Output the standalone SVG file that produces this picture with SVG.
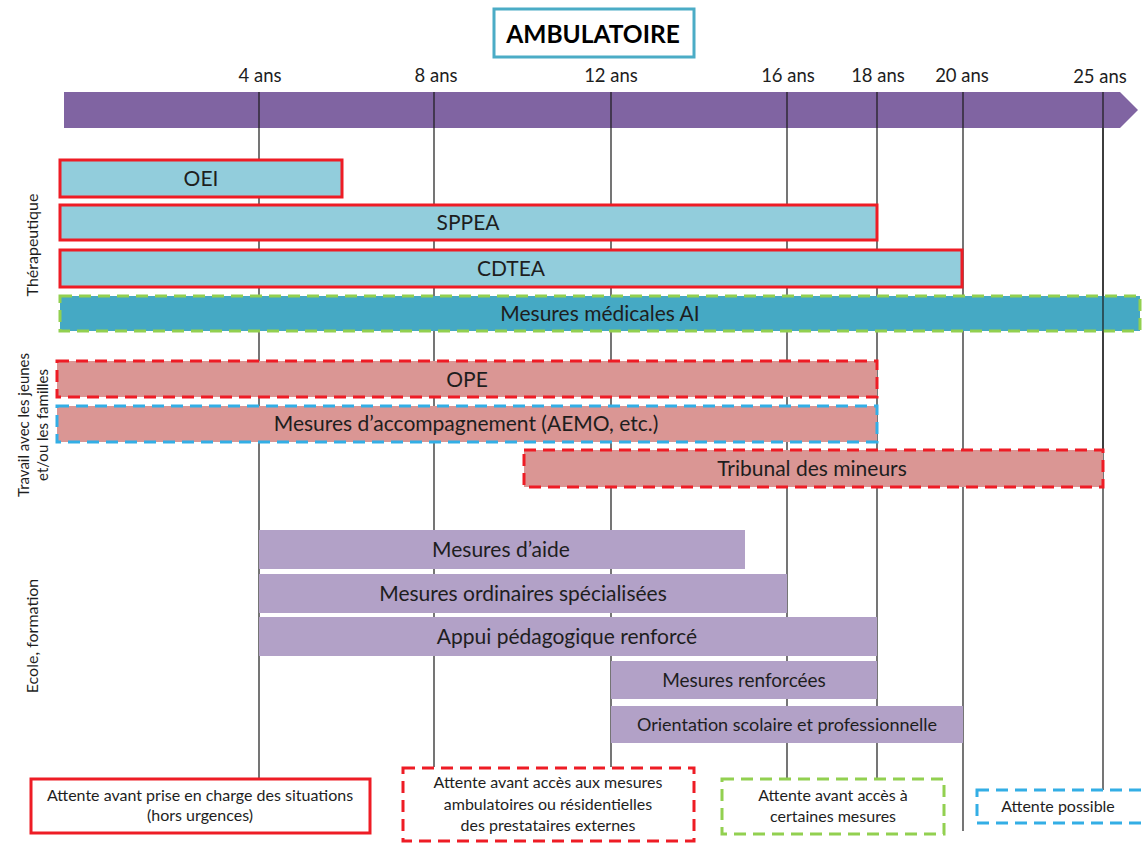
<svg xmlns="http://www.w3.org/2000/svg" width="1142" height="843" viewBox="0 0 1142 843">
<style>
text{font-family:Lato,"Open Sans","Liberation Sans",sans-serif;fill:#1e1e1e;text-anchor:middle}
.age{font-size:18.5px}
.lbl{font-size:21px}
.small{font-size:16px}
.side{font-size:16px}
.grid{stroke:#1a1a1a;stroke-width:1.2;fill:none}
.ther{fill:#92CDDC;stroke:#EE1C25;stroke-width:3}
.ai{fill:#45A9C4;stroke:#92D050;stroke-width:3;stroke-dasharray:12 7}
.fam{fill:#DA9694;stroke-width:3;stroke-dasharray:12 7}
.red{stroke:#EE1C25}
.blue{stroke:#33AEE5}
.ecole{fill:#B2A1C7}
.leg{fill:#fff;stroke-width:3}
</style>
<g id="title">
<rect x="494" y="9" width="200" height="48" fill="#fff" stroke="#4BACC6" stroke-width="3"/>
<text x="593" y="43" style="font-size:24.5px;font-weight:bold;fill:#000">AMBULATOIRE</text>
</g>
<g id="timeline">
<path d="M64 92 H1120 L1138 110 L1120 128 H64 Z" fill="#8064A2"/>
<text class="age" x="260" y="82">4 ans</text>
<text class="age" x="436" y="82">8 ans</text>
<text class="age" x="611" y="82">12 ans</text>
<text class="age" x="788" y="82">16 ans</text>
<text class="age" x="878" y="82">18 ans</text>
<text class="age" x="962" y="82">20 ans</text>
<text class="age" x="1100" y="83">25 ans</text>
</g>
<g id="connectors">
<line class="grid" x1="259" y1="92" x2="259" y2="779"/>
<line class="grid" x1="434" y1="92" x2="434" y2="767"/>
<line class="grid" x1="611" y1="92" x2="611" y2="767"/>
<line class="grid" x1="787" y1="92" x2="787" y2="779"/>
<line class="grid" x1="877" y1="92" x2="877" y2="779"/>
<line class="grid" x1="963" y1="92" x2="963" y2="831"/>
<line class="grid" x1="1103" y1="92" x2="1103" y2="790"/>
</g>
<g id="side-labels">
<text class="side" transform="translate(38 245) rotate(-90)">Thérapeutique</text>
<text class="side" style="font-size:15px" transform="translate(29 425) rotate(-90)">Travail avec les jeunes</text>
<text class="side" style="font-size:15px" transform="translate(48 425) rotate(-90)">et/ou les familles</text>
<text class="side" transform="translate(38 636) rotate(-90)">Ecole, formation</text>
</g>
<g id="oei"><rect class="ther" x="60" y="160" width="282" height="37"/><text class="lbl" x="201" y="186">OEI</text></g>
<g id="sppea"><rect class="ther" x="60" y="205" width="817" height="35"/><text class="lbl" x="468" y="230">SPPEA</text></g>
<g id="cdtea"><rect class="ther" x="60" y="250" width="902" height="37"/><text class="lbl" x="511" y="276">CDTEA</text></g>
<g id="mesures-medicales-ai"><rect class="ai" x="60" y="296" width="1080" height="35"/><text class="lbl" x="600" y="321">Mesures médicales AI</text></g>
<line class="grid" x1="1103" y1="128" x2="1103" y2="449"/>
<g id="ope"><rect class="fam red" x="57" y="361" width="820" height="36"/><text class="lbl" x="467" y="387">OPE</text></g>
<g id="mesures-accompagnement"><rect class="fam blue" x="57" y="406" width="820" height="36"/><text class="lbl" x="466" y="431">Mesures d’accompagnement (AEMO, etc.)</text></g>
<g id="tribunal-des-mineurs"><rect class="fam red" x="524" y="450" width="579" height="37"/><text class="lbl" x="812" y="476">Tribunal des mineurs</text></g>
<g id="mesures-aide"><rect class="ecole" x="259" y="530" width="486" height="39"/><text class="lbl" x="501" y="557">Mesures d’aide</text></g>
<g id="mesures-ordinaires"><rect class="ecole" x="259" y="574" width="528" height="39"/><text class="lbl" x="523" y="601">Mesures ordinaires spécialisées</text></g>
<g id="appui-pedagogique"><rect class="ecole" x="259" y="617" width="618" height="39"/><text class="lbl" x="567" y="644">Appui pédagogique renforcé</text></g>
<g id="mesures-renforcees"><rect class="ecole" x="611" y="661" width="266" height="38"/><text x="744" y="687" style="font-size:19px">Mesures renforcées</text></g>
<g id="orientation"><rect class="ecole" x="611" y="706" width="352" height="37"/><text x="787" y="731" style="font-size:18px">Orientation scolaire et professionnelle</text></g>
<g id="legend-prise-en-charge">
<rect class="leg" x="31" y="779" width="339" height="54" stroke="#EE1C25"/>
<text class="small" x="200" y="801">Attente avant prise en charge des situations</text>
<text class="small" x="200" y="821">(hors urgences)</text>
</g>
<g id="legend-prestataires">
<rect class="leg" x="403" y="768" width="291" height="73" stroke="#EE1C25" stroke-dasharray="12 7"/>
<text class="small" x="548" y="788">Attente avant accès aux mesures</text>
<text class="small" x="548" y="810">ambulatoires ou résidentielles</text>
<text class="small" x="548" y="831">des prestataires externes</text>
</g>
<g id="legend-certaines-mesures">
<rect class="leg" x="722" y="779" width="222" height="55" stroke="#92D050" stroke-dasharray="12 7"/>
<text class="small" x="833" y="801">Attente avant accès à</text>
<text class="small" x="833" y="822">certaines mesures</text>
</g>
<g id="legend-possible">
<rect class="leg" x="977" y="790" width="170" height="33" stroke="#33AEE5" stroke-dasharray="12 7"/>
<text class="small" x="1058" y="812">Attente possible</text>
</g>
</svg>
